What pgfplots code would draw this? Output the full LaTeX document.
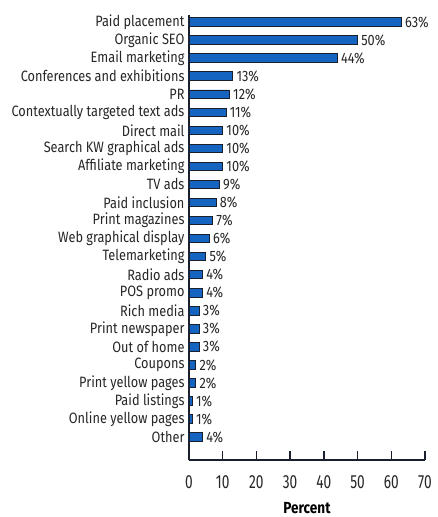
\documentclass[border=0pt]{standalone}
\usepackage{pgfplots}
\pgfplotsset{compat=1.18}
\usepackage{fontspec}
\setmainfont[FakeStretch=0.85]{Fira Sans}
\newfontfamily\tickfont[FakeStretch=0.72]{Fira Sans}
\usetikzlibrary{calc}
\definecolor{barblue}{HTML}{1565C0}
\definecolor{edge}{HTML}{1A1F2E}
\begin{document}
\begin{tikzpicture}
\begin{axis}[
  name=ax,
  scale only axis,
  width=236pt, height=445pt,
  xbar, bar width=8.5pt,
  xmin=0, xmax=70,
  ymin=-0.39, ymax=24.27,
  y dir=reverse,
  axis lines=left,
  axis line style={-, line width=1.4pt, color=edge},
  xtick={0,10,...,70},
  ytick={0,...,23},
  yticklabels={Paid placement,Organic SEO,Email marketing,Conferences and exhibitions,PR,Contextually targeted text ads,Direct mail,Search KW graphical ads,Affiliate marketing,TV ads,Paid inclusion,Print magazines,Web graphical display,Telemarketing,Radio ads,POS promo,Rich media,Print newspaper,Out of home,Coupons,Print yellow pages,Paid listings,Online yellow pages,Other},
  y tick style={draw=none},
  x tick style={line width=1.4pt, color=edge},
  tick align=inside,
  major tick length=9pt,
  yticklabel style={xshift=-1pt, font=\fontsize{15}{17}\selectfont, text=black!85},
  xticklabel style={font=\tickfont\fontsize{19}{21}\selectfont, text=black!85, yshift=-12pt},
  /pgf/number format/assume math mode=true,
  xlabel={\textbf{Percent}},
  xlabel style={font=\fontsize{16}{18}\selectfont, at={(axis description cs:0.5,0)}, anchor=center, yshift=-48pt},
  nodes near coords={\pgfmathprintnumber{\pgfplotspointmeta}\%},
  point meta=x,
  every node near coord/.append style={font=\fontsize{15}{17}\selectfont, text=black!85, xshift=0pt},
]
\addplot[fill=barblue, draw=edge, line width=0.9pt] coordinates {
(63,0) (50,1) (44,2) (13,3) (12,4) (11,5) (10,6) (10,7) (10,8) (9,9) (8,10) (7,11) (6,12) (5,13) (4,14) (4,15) (3,16) (3,17) (3,18) (2,19) (2,20) (1,21) (1,22) (4,23)
};
\end{axis}
\pgfresetboundingbox
\path[use as bounding box] ($(ax.south west)+(-189pt,-57pt)$) rectangle ($(ax.north east)+(12pt,15pt)$);
\end{tikzpicture}
\end{document}
